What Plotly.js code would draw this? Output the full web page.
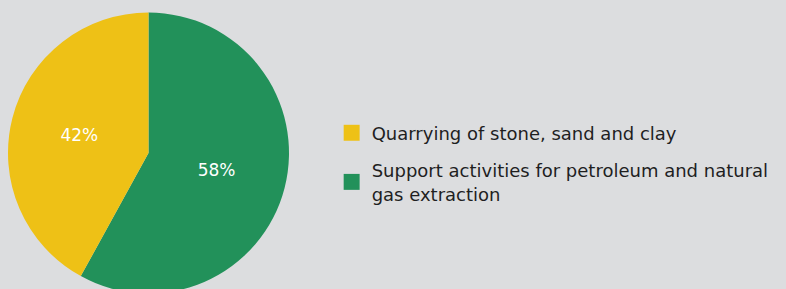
<!DOCTYPE html>
<html>
<head>
<meta charset="utf-8">
<script src="https://cdn.plot.ly/plotly-3.0.1.min.js"></script>
<style>
  html, body { margin:0; padding:0; background:#dcdddf; overflow:hidden; width:786px; height:289px; }
  #chart { width:786px; height:300px; }
</style>
</head>
<body>
<div id="chart"></div>
<script>
const labels = ["Support activities for petroleum and natural<br>gas extraction", "Quarrying of stone, sand and clay"];
const values = [58, 42];
const colors = ["#22915a", "#eec116"];

const FONT = "'DejaVu Sans', Verdana, sans-serif";

const data = [{
  type: "pie",
  labels: labels,
  values: values,
  sort: false,
  direction: "clockwise",
  rotation: 0,
  marker: { colors: colors, line: { width: 0 } },
  textinfo: "percent",
  texttemplate: "%{percent:.0%}",
  textposition: "inside",
  insidetextfont: { color: "#ffffff", size: 17, family: FONT },
  domain: { x: [0, 281/778], y: [0, 1] },
  hoverinfo: "none"
}];

const layout = {
  width: 786,
  height: 300,
  margin: { l: 8, r: 0, t: 12, b: 6 },
  paper_bgcolor: "#dcdddf",
  plot_bgcolor: "#dcdddf",
  font: { family: FONT, size: 18, color: "#1f1f1f" },
  showlegend: true,
  legend: {
    x: 0.416, xanchor: "left",
    y: 0.482, yanchor: "middle",
    traceorder: "reversed",
    bgcolor: "rgba(0,0,0,0)",
    font: { size: 18, color: "#1f1f1f", family: FONT }
  }
};

Plotly.newPlot("chart", data, layout, { displayModeBar: false, staticPlot: true }).then(function (gd) {
  // enlarge legend swatches and open up the spacing between entries
  gd.querySelectorAll(".legend [clip-path]").forEach(function (el) {
    el.removeAttribute("clip-path");
  });
  gd.querySelectorAll(".legend .legendpoints path").forEach(function (p) {
    const tr = p.getAttribute("transform") || "";
    p.setAttribute("transform", tr + " scale(1.33)");
  });
  gd.querySelectorAll(".legend .traces").forEach(function (t, i) {
    if (i > 0) {
      const tr = t.getAttribute("transform") || "";
      const m = tr.match(/translate\(([-\d.]+)[ ,]+([-\d.]+)\)/);
      if (m) t.setAttribute("transform", "translate(" + m[1] + "," + (parseFloat(m[2]) + 11 * i) + ")");
    }
  });
});
</script>
</body>
</html>
